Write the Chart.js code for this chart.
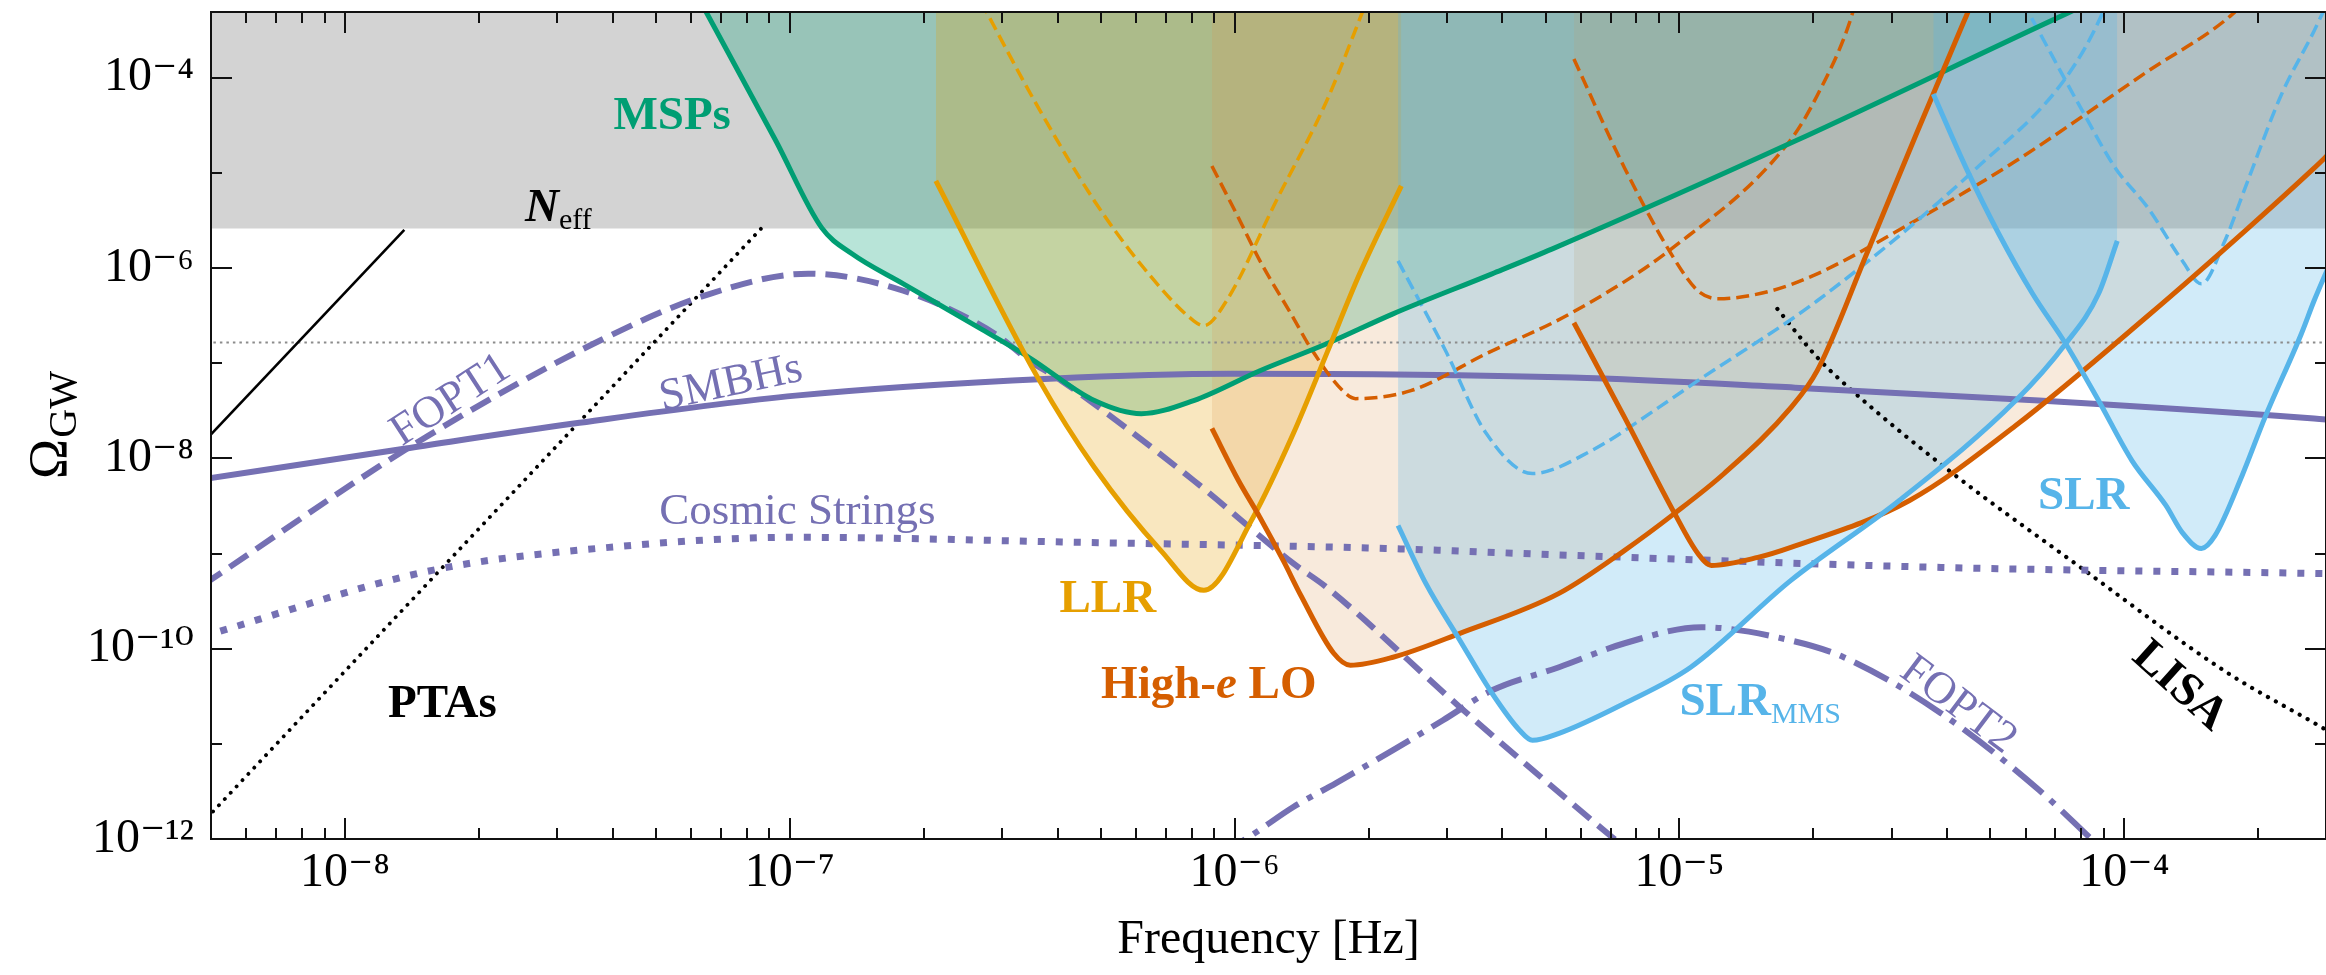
<!DOCTYPE html>
<html>
<head>
<meta charset="utf-8">
<title>Omega_GW sensitivity</title>
<script src="https://cdn.jsdelivr.net/npm/chart.js@4.4.1/dist/chart.umd.min.js"></script>
<style>
html,body{margin:0;padding:0;background:#ffffff;overflow:hidden;}
#wrap{position:relative;width:2326px;height:975px;}
canvas{display:block;}
</style>
</head>
<body>
<div id="wrap"><canvas id="chart" width="2326" height="975"></canvas></div>
<script>
// ---------------- axis ranges & ticks ----------------
const freqRange = [5e-9, 2.84e-4];
const omegaRange = [1e-12, 4.9e-4];
const xMajorTicks = [1e-8, 1e-7, 1e-6, 1e-5, 1e-4];
const xTickLabels = ['10⁻⁸', '10⁻⁷', '10⁻⁶', '10⁻⁵', '10⁻⁴'];
const xDecades = [1e-9, 1e-8, 1e-7, 1e-6, 1e-5, 1e-4];
const xMinorMultipliers = [2, 3, 4, 5, 6, 7, 8, 9];
const yMajorTicks = [1e-12, 1e-10, 1e-8, 1e-6, 1e-4];
const yTickLabels = ['10⁻¹²', '10⁻¹⁰', '10⁻⁸', '10⁻⁶', '10⁻⁴'];
const yMinorTicks = [1e-11, 1e-9, 1e-7, 1e-5];

// ---------------- data (frequency in Hz, Omega_GW) ----------------
const neffBandFreq = [4e-9, 4e-4];
const neffBandOmega = [2.6e-6, 2.6e-6];
const refLineFreq = [4e-9, 4e-4];
const refLineOmega = [1.65e-7, 1.65e-7];

const neffLineFreq = [4.9e-9, 1.36e-8];
const neffLineOmega = [1.62e-8, 2.51e-6];

const ptaFreq = [4.9e-9, 8.61e-8];
const ptaOmega = [1.67e-12, 2.58e-6];

const lisaFreq = [1.66e-5, 2.04e-5, 2.46e-5, 4.04e-5, 7.89e-5, 1.70e-4, 2.67e-4, 3.16e-4];
const lisaOmega = [3.72e-7, 1.15e-7, 5.01e-8, 7.41e-9, 7.41e-10, 5.62e-11, 1.66e-11, 1.05e-11];

const smbhFreq = [4.8e-9, 1.37e-8, 3.27e-8, 1.03e-7, 3.84e-7, 9.91e-7, 5.73e-6, 1.82e-5, 6.43e-5, 2.67e-4, 3.16e-4];
const smbhOmega = [6.03e-9, 1.27e-8, 2.32e-8, 4.56e-8, 6.87e-8, 7.76e-8, 7.05e-8, 5.53e-8, 4.05e-8, 2.62e-8, 2.45e-8];

const fopt1Freq = [4.8e-9, 1.44e-8, 3.62e-8, 6.62e-8, 1.10e-7, 1.80e-7, 2.89e-7, 3.46e-7, 4.08e-7, 8.09e-7, 1.355e-6, 1.61e-6, 3.21e-6, 7.05e-6, 7.6e-6];
const fopt1Omega = [4.68e-10, 1.43e-8, 1.60e-7, 5.36e-7, 8.71e-7, 5.77e-7, 2.04e-7, 1.06e-7, 6.55e-8, 5.85e-9, 7.87e-10, 4.41e-10, 2.43e-11, 1.05e-12, 7.9e-13];

const cosmicFreq = [4.8e-9, 1.57e-8, 3.92e-8, 1.03e-7, 4.50e-7, 2.18e-6, 5.73e-6, 3.87e-5, 2.67e-4, 3.16e-4];
const cosmicOmega = [1.35e-10, 6.65e-10, 1.16e-9, 1.48e-9, 1.31e-9, 1.13e-9, 9.55e-10, 7.14e-10, 6.18e-10, 6.1e-10];

const fopt2Freq = [8.9e-7, 1.06e-6, 1.355e-6, 1.69e-6, 2.27e-6, 2.94e-6, 3.79e-6, 5.36e-6, 7.53e-6, 1.12e-5, 1.78e-5, 2.34e-5, 3.87e-5, 6.43e-5, 8.43e-5, 9.12e-5];
const fopt2Omega = [6.3e-13, 1.0e-12, 2.17e-12, 3.87e-12, 8.59e-12, 1.77e-11, 3.65e-11, 6.38e-11, 1.14e-10, 1.68e-10, 1.22e-10, 8.13e-11, 2.10e-11, 3.27e-12, 1.0e-12, 7.1e-13];

const mspFreq = [6.3e-8, 9.31e-8, 1.18e-7, 1.38e-7, 1.80e-7, 2.66e-7, 3.46e-7, 4.84e-7, 6.17e-7, 8.09e-7, 1.14e-6, 1.61e-6, 2.27e-6, 3.79e-6, 5.18e-6, 1.82e-5, 7.45e-5, 8.49e-5];
const mspOmega = [6.3e-4, 2.16e-5, 2.64e-6, 1.41e-6, 6.82e-7, 2.36e-7, 1.14e-7, 4.05e-8, 2.95e-8, 4.05e-8, 8.34e-8, 1.60e-7, 3.30e-7, 8.69e-7, 1.59e-6, 2.16e-5, 4.77e-4, 6.3e-4];

const llrFreq = [2.13e-7, 3.61e-7, 4.84e-7, 6.82e-7, 8.53e-7, 1.10e-6, 1.355e-6, 1.61e-6, 1.91e-6, 2.37e-6];
const llrOmega = [8.22e-6, 7.05e-8, 8.0e-9, 1.08e-9, 4.10e-10, 2.39e-9, 1.82e-8, 1.26e-7, 8.69e-7, 7.29e-6];
const llrFutureFreq = [2.69e-7, 3.55e-7, 4.84e-7, 6.25e-7, 8.09e-7, 8.53e-7, 9.59e-7, 1.24e-6, 1.61e-6, 1.98e-6];
const llrFutureOmega = [6.3e-4, 5.69e-5, 5.07e-6, 1.00e-6, 2.79e-7, 2.48e-7, 4.53e-7, 5.07e-6, 5.69e-5, 6.3e-4];

const highEAFreq = [8.89e-7, 1.02e-6, 1.14e-6, 1.29e-6, 1.41e-6, 1.67e-6, 1.82e-6, 2.27e-6, 3.21e-6, 5.36e-6, 7.53e-6, 9.75e-6, 1.26e-5, 1.78e-5, 2.04e-5, 2.64e-5, 3.40e-5, 4.41e-5, 4.61e-5];
const highEAOmega = [2.06e-8, 5.85e-9, 2.39e-9, 8.2e-10, 3.6e-10, 8.95e-11, 6.70e-11, 8.13e-11, 1.45e-10, 3.81e-10, 1.08e-9, 2.64e-9, 6.93e-9, 3.41e-8, 8.34e-8, 1.44e-6, 2.50e-5, 4.43e-4, 7.2e-4];
const highEAFutureFreq = [8.89e-7, 1.02e-6, 1.14e-6, 1.355e-6, 1.48e-6, 1.75e-6, 1.87e-6, 2.49e-6, 3.68e-6, 5.73e-6, 9.59e-6, 1.77e-5, 2.04e-5, 2.43e-5, 2.5e-5];
const highEAFutureOmega = [1.18e-5, 3.37e-6, 1.19e-6, 3.0e-7, 1.46e-7, 5.14e-8, 4.24e-8, 5.14e-8, 1.26e-7, 3.39e-7, 1.59e-6, 2.16e-5, 6.5e-5, 4.22e-4, 7e-4];

const highEBFreq = [5.79e-6, 7.53e-6, 9.75e-6, 1.10e-5, 1.18e-5, 1.50e-5, 1.78e-5, 3.29e-5, 5.70e-5, 1.13e-4, 1.89e-4, 2.67e-4, 2.9e-4];
const highEBOmega = [2.66e-7, 2.68e-8, 2.64e-9, 1.0e-9, 7.50e-10, 9.10e-10, 1.16e-9, 3.61e-9, 2.21e-8, 3.15e-7, 2.58e-6, 1.12e-5, 1.62e-5];
const highEBFutureFreq = [5.79e-6, 7.53e-6, 9.70e-6, 1.10e-5, 1.22e-5, 1.61e-5, 2.04e-5, 3.29e-5, 5.70e-5, 1.13e-4, 1.75e-4, 1.9e-4];
const highEBFutureOmega = [1.57e-4, 1.12e-5, 1.28e-6, 5.77e-7, 4.75e-7, 5.77e-7, 8.69e-7, 2.9e-6, 1.33e-5, 1.17e-4, 4.65e-4, 7e-4];

const slrMmsFreq = [2.33e-6, 2.69e-6, 3.21e-6, 3.79e-6, 4.37e-6, 4.67e-6, 5.36e-6, 7.53e-6, 1.06e-5, 1.78e-5, 3.12e-5, 5.70e-5, 7.38e-5, 8.75e-5, 9.64e-5];
const slrMmsOmega = [1.97e-9, 4.85e-10, 1.22e-10, 3.40e-11, 1.39e-11, 1.09e-11, 1.29e-11, 2.67e-11, 6.38e-11, 5.22e-10, 3.61e-9, 4.05e-8, 1.60e-7, 5.36e-7, 1.93e-6];
const slrMmsFutureFreq = [2.33e-6, 2.98e-6, 3.68e-6, 4.67e-6, 6.35e-6, 8.97e-6, 1.10e-5, 2.04e-5, 4.65e-5, 7.38e-5, 8.93e-5, 9.2e-5];
const slrMmsFutureOmega = [1.19e-6, 1.35e-7, 1.82e-8, 6.93e-9, 1.21e-8, 3.41e-8, 6.55e-8, 4.53e-7, 1.12e-5, 9.91e-5, 4.77e-4, 7e-4];

const slrFreq = [3.72e-5, 4.41e-5, 5.22e-5, 6.22e-5, 7.38e-5, 8.75e-5, 1.04e-4, 1.24e-4, 1.35e-4, 1.49e-4, 1.60e-4, 1.84e-4, 2.07e-4, 2.50e-4, 2.67e-4, 2.9e-4];
const slrOmega = [6.73e-5, 1.12e-5, 2.29e-6, 5.36e-7, 1.60e-7, 4.05e-8, 9.48e-9, 3.20e-9, 1.66e-9, 1.13e-9, 1.55e-9, 6.61e-9, 2.68e-8, 2.04e-7, 4.53e-7, 1.12e-6];
const slrFutureFreq = [5.90e-5, 6.10e-5, 8.05e-5, 9.55e-5, 1.13e-4, 1.35e-4, 1.49e-4, 1.68e-4, 1.89e-4, 2.25e-4, 2.67e-4, 2.9e-4];
const slrFutureOmega = [6.3e-4, 4.77e-4, 4.47e-5, 1.12e-5, 4.29e-6, 1.19e-6, 6.82e-7, 1.9e-6, 8e-6, 6.5e-5, 3.1e-4, 7e-4];

// ---------------- styles ----------------
const FONT = "'Liberation Serif','DejaVu Serif',serif";
const PURPLE = '#7570B3', GREEN = '#009E73', ORANGE = '#E69F00', VERMIL = '#D55E00', SKY = '#56B4E9';

// text annotations (anchor in data coordinates)
const annotations = [
  {parts: [['MSPs', 'b']], f: 5.44e-8, o: 2.89e-5, color: GREEN, align: 'center'},
  {parts: [['N', 'bi'], ['eff', 'sub']], f: 2.54e-8, o: 3.13e-6, color: '#000', align: 'left'},
  {parts: [['FOPT1', 'r']], f: 1.73e-8, o: 4.05e-8, color: PURPLE, align: 'center', base: 'middle', rot: -33},
  {parts: [['SMBHs', 'r']], f: 7.38e-8, o: 6.1e-8, color: PURPLE, align: 'center', base: 'middle', rot: -12},
  {parts: [['Cosmic Strings', 'r']], f: 5.09e-8, o: 2.02e-9, color: PURPLE, align: 'left'},
  {parts: [['PTAs', 'b']], f: 1.25e-8, o: 1.9e-11, color: '#000', align: 'left'},
  {parts: [['LLR', 'b']], f: 4.04e-7, o: 2.41e-10, color: ORANGE, align: 'left'},
  {parts: [['High-', 'b'], ['e', 'bi'], [' LO', 'b']], f: 5.01e-7, o: 3.02e-11, color: VERMIL, align: 'left'},
  {parts: [['SLR', 'b'], ['MMS', 'sub']], f: 1.0e-5, o: 2.0e-11, color: SKY, align: 'left'},
  {parts: [['SLR', 'b']], f: 6.4e-5, o: 2.97e-9, color: SKY, align: 'left'},
  {parts: [['FOPT2', 'r']], f: 4.23e-5, o: 2.55e-11, color: PURPLE, align: 'center', base: 'middle', rot: 37},
  {parts: [['LISA', 'b']], f: 1.33e-4, o: 4.0e-11, color: '#000', align: 'center', base: 'middle', rot: 42}
];
const partFonts = {
  b: {font: `bold 47px ${FONT}`, dy: 0},
  bi: {font: `italic bold 47px ${FONT}`, dy: 0},
  r: {font: `45px ${FONT}`, dy: 0},
  sub: {font: `30px ${FONT}`, dy: 8}
};

// ---------------- helpers ----------------
function pts(fs, os) { return fs.map((f, i) => ({x: f, y: os[i]})); }
const datasets = [];
let ord = 1000;
function add(ds) {
  datasets.push(Object.assign({
    pointRadius: 0, pointHoverRadius: 0, borderWidth: 0, fill: false, clip: 0,
    cubicInterpolationMode: 'monotone', capBezierPoints: false,
    borderJoinStyle: 'round', borderColor: 'rgba(0,0,0,0)', backgroundColor: 'rgba(0,0,0,0)'
  }, ds, {order: ord--}));
}

// fills (bottom)
add({label: 'Neff bound', data: pts(neffBandFreq, neffBandOmega), fill: 'end', backgroundColor: '#D3D3D3', cubicInterpolationMode: 'default', tension: 0});
add({label: 'MSPs region', data: pts(mspFreq, mspOmega), fill: 'end', backgroundColor: 'rgba(0,158,115,0.28)'});
add({label: 'LLR region', data: pts(llrFreq, llrOmega), fill: 'end', backgroundColor: 'rgba(230,159,0,0.25)'});
add({label: 'High-e LO region A', data: pts(highEAFreq, highEAOmega), fill: 'end', backgroundColor: 'rgba(220,150,80,0.2)'});
add({label: 'High-e LO region B', data: pts(highEBFreq, highEBOmega), fill: 'end', backgroundColor: 'rgba(220,150,80,0.2)'});
add({label: 'SLR MMS region', data: pts(slrMmsFreq, slrMmsOmega), fill: 'end', backgroundColor: 'rgba(86,180,233,0.27)'});
add({label: 'SLR region', data: pts(slrFreq, slrOmega), fill: 'end', backgroundColor: 'rgba(86,180,233,0.27)'});

// reference lines
add({label: 'reference', data: pts(refLineFreq, refLineOmega), borderColor: '#8c8c8c', borderWidth: 2, borderDash: [2.5, 4], cubicInterpolationMode: 'default', tension: 0});
add({label: 'Neff line', data: pts(neffLineFreq, neffLineOmega), borderColor: '#000', borderWidth: 2.6, cubicInterpolationMode: 'default', tension: 0});
add({label: 'PTAs', data: pts(ptaFreq, ptaOmega), borderColor: '#000', borderWidth: 3.8, borderDash: [0.1, 8.5], borderCapStyle: 'round', cubicInterpolationMode: 'default', tension: 0});
add({label: 'LISA', data: pts(lisaFreq, lisaOmega), borderColor: '#000', borderWidth: 4.2, borderDash: [0.1, 9], borderCapStyle: 'round'});

// signals
add({label: 'Cosmic Strings', data: pts(cosmicFreq, cosmicOmega), borderColor: PURPLE, borderWidth: 7, borderDash: [7, 11]});
add({label: 'SMBHs', data: pts(smbhFreq, smbhOmega), borderColor: PURPLE, borderWidth: 6});
add({label: 'FOPT1', data: pts(fopt1Freq, fopt1Omega), borderColor: PURPLE, borderWidth: 6, borderDash: [22, 10]});
add({label: 'FOPT2', data: pts(fopt2Freq, fopt2Omega), borderColor: PURPLE, borderWidth: 6, borderDash: [38, 10, 6, 10]});

// future (dashed) sensitivities
add({label: 'LLR future', data: pts(llrFutureFreq, llrFutureOmega), borderColor: ORANGE, borderWidth: 3.5, borderDash: [13, 6]});
add({label: 'High-e LO A future', data: pts(highEAFutureFreq, highEAFutureOmega), borderColor: VERMIL, borderWidth: 3.5, borderDash: [13, 6]});
add({label: 'High-e LO B future', data: pts(highEBFutureFreq, highEBFutureOmega), borderColor: VERMIL, borderWidth: 3.5, borderDash: [13, 6]});
add({label: 'SLR MMS future', data: pts(slrMmsFutureFreq, slrMmsFutureOmega), borderColor: SKY, borderWidth: 3.5, borderDash: [13, 6]});
add({label: 'SLR future', data: pts(slrFutureFreq, slrFutureOmega), borderColor: SKY, borderWidth: 3.5, borderDash: [13, 6]});

// current (solid) sensitivities
add({label: 'MSPs', data: pts(mspFreq, mspOmega), borderColor: GREEN, borderWidth: 5});
add({label: 'LLR', data: pts(llrFreq, llrOmega), borderColor: ORANGE, borderWidth: 5});
add({label: 'High-e LO A', data: pts(highEAFreq, highEAOmega), borderColor: VERMIL, borderWidth: 5});
add({label: 'High-e LO B', data: pts(highEBFreq, highEBOmega), borderColor: VERMIL, borderWidth: 5});
add({label: 'SLR MMS', data: pts(slrMmsFreq, slrMmsOmega), borderColor: SKY, borderWidth: 5});
add({label: 'SLR', data: pts(slrFreq, slrOmega), borderColor: SKY, borderWidth: 5});

// ---------------- ticks ----------------
const xAllTicks = [];
xDecades.forEach(d => { [1].concat(xMinorMultipliers).forEach(m => { const v = m * d; if (v >= freqRange[0] && v <= freqRange[1]) xAllTicks.push(v); }); });
const yAllTicks = yMajorTicks.concat(yMinorTicks).sort((a, b) => a - b);
function lookup(list, labels, v) {
  const i = list.findIndex(t => Math.abs(t - v) / t < 1e-6);
  return i >= 0 ? labels[i] : '';
}

// ---------------- plugins ----------------
const labelPlugin = {
  id: 'textLabels',
  afterDatasetsDraw(chart) {
    const {ctx, scales: {x, y}} = chart;
    annotations.forEach(a => {
      const px = x.getPixelForValue(a.f), py = y.getPixelForValue(a.o);
      ctx.save();
      ctx.translate(px, py);
      if (a.rot) ctx.rotate(a.rot * Math.PI / 180);
      ctx.fillStyle = a.color;
      ctx.textAlign = 'left';
      ctx.textBaseline = a.base || 'alphabetic';
      const widths = a.parts.map(p => { ctx.font = partFonts[p[1]].font; return ctx.measureText(p[0]).width; });
      const total = widths.reduce((s, w) => s + w, 0);
      let cx = a.align === 'center' ? -total / 2 : 0;
      a.parts.forEach((p, i) => {
        ctx.font = partFonts[p[1]].font;
        ctx.fillText(p[0], cx, partFonts[p[1]].dy);
        cx += widths[i];
      });
      ctx.restore();
    });
  }
};

const framePlugin = {
  id: 'frameTicks',
  afterDraw(chart) {
    const {ctx, chartArea: a, scales: {x, y}} = chart;
    ctx.save();
    ctx.strokeStyle = '#111';
    ctx.lineWidth = 2;
    ctx.beginPath();
    x.ticks.forEach(t => {
      const px = Math.round(x.getPixelForValue(t.value));
      const len = t.label ? 21 : 11;
      ctx.moveTo(px, a.bottom); ctx.lineTo(px, a.bottom - len);
      ctx.moveTo(px, a.top); ctx.lineTo(px, a.top + len);
    });
    y.ticks.forEach(t => {
      const py = Math.round(y.getPixelForValue(t.value));
      const len = t.label ? 21 : 11;
      ctx.moveTo(a.left, py); ctx.lineTo(a.left + len, py);
      ctx.moveTo(a.right, py); ctx.lineTo(a.right - len, py);
    });
    ctx.stroke();
    ctx.strokeRect(a.left, a.top, a.right - a.left, a.bottom - a.top);
    // y-axis title  Omega_GW
    ctx.fillStyle = '#000';
    ctx.translate(66, (a.top + a.bottom) / 2);
    ctx.rotate(-Math.PI / 2);
    ctx.textAlign = 'left';
    ctx.textBaseline = 'alphabetic';
    ctx.font = `54px ${FONT}`;
    const w1 = ctx.measureText('Ω').width;
    ctx.font = `40px ${FONT}`;
    const w2 = ctx.measureText('GW').width;
    const s = -(w1 + w2) / 2;
    ctx.font = `54px ${FONT}`;
    ctx.fillText('Ω', s, 0);
    ctx.font = `40px ${FONT}`;
    ctx.fillText('GW', s + w1 + 1, 10);
    ctx.restore();
  }
};

// ---------------- chart ----------------
new Chart(document.getElementById('chart'), {
  type: 'line',
  data: {datasets},
  options: {
    responsive: false,
    animation: false,
    devicePixelRatio: 1,
    events: [],
    layout: {padding: {left: 0, right: -10, top: 12, bottom: 0}},
    plugins: {legend: {display: false}, tooltip: {enabled: false}, title: {display: false}},
    scales: {
      x: {
        type: 'logarithmic', position: 'bottom',
        min: freqRange[0], max: freqRange[1],
        grid: {display: false, drawTicks: false},
        border: {display: false},
        afterBuildTicks: s => { s.ticks = xAllTicks.map(v => ({value: v})); },
        afterFit: s => { s.height = 136; s.paddingLeft = 0; s.paddingRight = 0; },
        ticks: {
          autoSkip: false, maxRotation: 0, minRotation: 0, padding: 6, color: '#000',
          font: {family: FONT, size: 48},
          callback: v => lookup(xMajorTicks, xTickLabels, v)
        },
        title: {display: true, text: 'Frequency [Hz]', color: '#000', font: {family: FONT, size: 48}, padding: {top: 0, bottom: 6}}
      },
      y: {
        type: 'logarithmic', position: 'left',
        min: omegaRange[0], max: omegaRange[1],
        grid: {display: false, drawTicks: false},
        border: {display: false},
        afterBuildTicks: s => { s.ticks = yAllTicks.map(v => ({value: v})); },
        afterFit: s => { s.width = 211; s.paddingTop = 0; s.paddingBottom = 0; },
        ticks: {
          autoSkip: false, padding: 17, color: '#000',
          font: {family: FONT, size: 48},
          callback: v => lookup(yMajorTicks, yTickLabels, v)
        }
      }
    }
  },
  plugins: [labelPlugin, framePlugin]
});
</script>
</body>
</html>
